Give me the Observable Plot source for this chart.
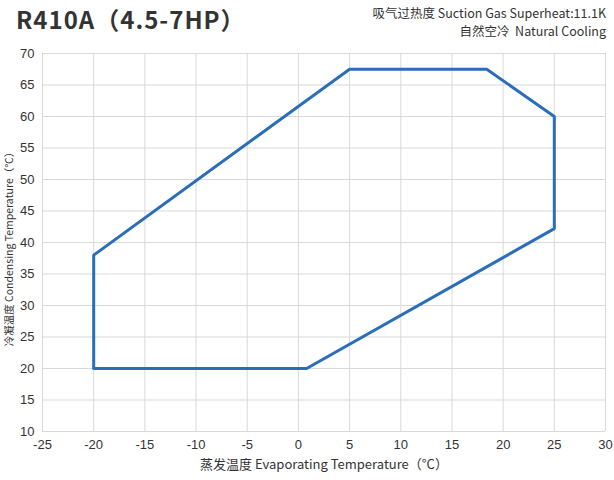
<!DOCTYPE html>
<html><head><meta charset="utf-8">
<script src="https://cdn.jsdelivr.net/npm/d3@7"></script>
<script src="https://cdn.jsdelivr.net/npm/@observablehq/plot@0.6"></script>
<style>
body{margin:0;background:#fff;}
#wrap{position:relative;width:614px;height:480px;}
#title{position:absolute;left:16px;top:1px;font-family:"Noto Sans CJK SC","Noto Sans",sans-serif;font-weight:bold;font-size:24px;letter-spacing:1px;color:#333;}
#sub{position:absolute;right:8px;top:4px;text-align:right;font-family:"Noto Sans CJK SC","Noto Sans",sans-serif;font-size:12.5px;color:#333;}
#sub div{line-height:18px;height:18px;}
</style></head><body>
<div id="wrap">
<div id="title">R410A（4.5-7HP）</div>
<div id="sub"><div>吸气过热度 Suction Gas Superheat:11.1K</div><div>自然空冷&nbsp; Natural Cooling</div></div>
<div id="chart"></div>
</div>
<script>
const evapTemp = [-20, -20, 5, 18.4, 25, 25, 0.8, -20];
const condTemp = [20, 38, 67.5, 67.5, 60, 42.2, 20, 20];
const xTicks = [-25,-20,-15,-10,-5,0,5,10,15,20,25,30];
const yTicks = [10,15,20,25,30,35,40,45,50,55,60,65,70];
const xLabel = "蒸发温度 Evaporating Temperature（°C）";
const yLabel = "冷凝温度 Condensing Temperature（°C）";

const pts = evapTemp.map((x,i)=>({x, y: condTemp[i]}));

const chart = Plot.plot({
  width: 614, height: 480,
  marginLeft: 42, marginRight: 9, marginTop: 53, marginBottom: 49,
  style: {fontFamily: "'Liberation Sans', Arial, sans-serif", fontSize: "13px", color: "#333", background: "#fff"},
  x: {domain: [-25, 30], ticks: xTicks, label: null},
  y: {domain: [10, 70], ticks: yTicks, label: null},
  marks: [
    Plot.gridX(xTicks, {stroke: "#d9d9d9", strokeOpacity: 1, strokeWidth: 1}),
    Plot.gridY(yTicks, {stroke: "#d9d9d9", strokeOpacity: 1, strokeWidth: 1}),
    Plot.axisX(xTicks, {tickSize: 0, tickPadding: 8, fontSize: 13, fill: "#333", tickFormat: d => String(d)}),
    Plot.axisY(yTicks, {tickSize: 0, tickPadding: 8, fontSize: 13, fill: "#333", tickFormat: d => String(d)}),
    Plot.line(pts, {x: "x", y: "y", stroke: "#2a6ebb", strokeWidth: 3, strokeLinejoin: "miter"}),
    Plot.text([xLabel], {frameAnchor: "bottom", dy: 37, fontSize: 13, fill: "#333", fontFamily: "'Noto Sans CJK SC', sans-serif"}),
    Plot.text([yLabel], {frameAnchor: "left", dx: -33, dy: 4, rotate: -90, textAnchor: "middle", fontSize: 10.5, fill: "#333", fontFamily: "'Noto Sans CJK SC', sans-serif"})
  ]
});
document.getElementById("chart").appendChild(chart);
</script>
</body></html>
